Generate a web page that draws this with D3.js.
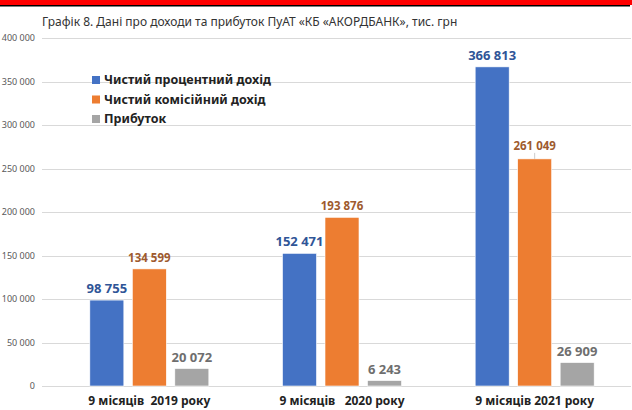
<!DOCTYPE html>
<html>
<head>
<meta charset="utf-8">
<script src="https://cdn.jsdelivr.net/npm/d3@7"></script>
<style>
  body { margin: 0; background: #fff; }
  svg { display: block; font-family: 'Noto Sans', 'Open Sans', sans-serif; }
</style>
</head>
<body>
<div id="chart"></div>
<script>
// DATA
const periods = ['9 місяців  2019 року', '9 місяців   2020 року', '9 місяців 2021 року'];
const seriesNames = ['Чистий процентний дохід', 'Чистий комісійний дохід', 'Прибуток'];
const interestIncome = [98755, 152471, 366813];
const commissionIncome = [134599, 193876, 261049];
const profit = [20072, 6243, 26909];
const yTicks = [0, 50000, 100000, 150000, 200000, 250000, 300000, 350000, 400000];
const title = 'Графік 8. Дані про доходи та прибуток ПуАТ «КБ «АКОРДБАНК», тис. грн';

const colors = ['#4472C4', '#ED7D31', '#A5A5A5'];
const labelColors = ['#2F5597', '#9E5A2E', '#6E6E6E'];
const labelSizes = [13, 11.5, 13];

const W = 632, H = 410;
const svg = d3.select('#chart').append('svg').attr('width', W).attr('height', H);

// red header band
svg.append('rect').attr('x', 0).attr('y', 0).attr('width', W).attr('height', 5).attr('fill', '#FF0000');
svg.append('rect').attr('x', 0).attr('y', 5).attr('width', 630).attr('height', 1.5).attr('fill', '#000');

svg.append('text')
  .attr('x', 42).attr('y', 26)
  .attr('font-size', 12).attr('fill', '#333')
  .text(title);

const plot = { left: 53, right: 631, top: 38, bottom: 386 };

const y = d3.scaleLinear().domain([0, 400000]).range([plot.bottom, plot.top]);
const x0 = d3.scaleBand().domain(periods).range([plot.left, plot.right]);
const x1 = d3.scaleBand().domain(d3.range(3)).range([0, x0.bandwidth()]).paddingInner(0.2).paddingOuter(0.867);

const fmt = v => d3.format(',')(v).replace(/,/g, ' ');

// gridlines
svg.append('g').selectAll('line').data(yTicks).join('line')
  .attr('x1', 42).attr('x2', plot.right)
  .attr('y1', d => Math.round(y(d)) + 0.5).attr('y2', d => Math.round(y(d)) + 0.5)
  .attr('stroke', '#d9d9d9').attr('stroke-width', 1);

// y labels
svg.append('g').selectAll('text').data(yTicks).join('text')
  .attr('x', 35).attr('y', d => y(d)).attr('dy', '0.35em')
  .attr('text-anchor', 'end').attr('font-size', 9).attr('fill', '#595959')
  .text(d => fmt(d));

const series = [interestIncome, commissionIncome, profit];
const groups = svg.append('g').selectAll('g').data(periods).join('g')
  .attr('transform', d => `translate(${x0(d)},0)`);

groups.selectAll('rect').data((p, gi) => series.map((s, si) => ({ si, v: s[gi] }))).join('rect')
  .attr('x', d => x1(d.si)).attr('width', x1.bandwidth())
  .attr('y', d => y(d.v)).attr('height', d => y(0) - y(d.v))
  .attr('fill', d => colors[d.si])
  .attr('stroke', '#fff').attr('stroke-width', 0.6);

groups.selectAll('text.val').data((p, gi) => series.map((s, si) => ({ si, v: s[gi], gi }))).join('text')
  .attr('class', 'val')
  .attr('x', d => x1(d.si) + x1.bandwidth() / 2)
  .attr('y', d => y(d.v) - ((d.gi === 2 && d.si === 1) ? 9 : 7))
  .attr('text-anchor', 'middle').attr('font-size', d => labelSizes[d.si]).attr('font-weight', 'bold')
  .attr('fill', d => labelColors[d.si])
  .text(d => fmt(d.v));

// small leader line on the lifted label
groups.filter((p, gi) => gi === 2).append('line')
  .attr('x1', x1(1) + x1.bandwidth() / 2).attr('x2', x1(1) + x1.bandwidth() / 2)
  .attr('y1', y(commissionIncome[2]) - 6).attr('y2', y(commissionIncome[2]))
  .attr('stroke', '#bfbfbf').attr('stroke-width', 0.8);

// x labels
svg.append('g').selectAll('text').data(periods).join('text')
  .attr('x', d => x0(d) + x0.bandwidth() / 2).attr('y', 405)
  .attr('text-anchor', 'middle').attr('font-size', 12).attr('font-weight', 'bold')
  .attr('fill', '#222').attr('xml:space', 'preserve').style('white-space', 'pre')
  .text(d => d);

// legend
const legend = svg.append('g').attr('transform', 'translate(92,80)');
legend.selectAll('g').data(seriesNames).join('g')
  .attr('transform', (d, i) => `translate(0,${i * 19.5})`)
  .each(function(d, i) {
    const g = d3.select(this);
    g.append('rect').attr('x', 0).attr('y', -4).attr('width', 8).attr('height', 8).attr('fill', colors[i]);
    g.append('text').attr('x', 12).attr('dy', '0.35em')
      .attr('font-size', 12.5).attr('font-weight', 'bold').attr('fill', '#222').text(d);
  });
</script>
</body>
</html>
